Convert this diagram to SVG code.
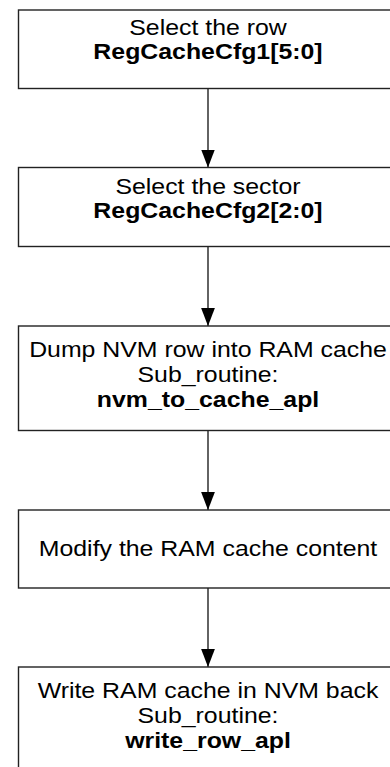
<svg xmlns="http://www.w3.org/2000/svg" width="390" height="767" viewBox="0 0 390 767">
<defs>
<style>
.box{fill:#fff;stroke:#222;stroke-width:1.4}
.t{font-family:"Liberation Sans",Arial,sans-serif;font-size:22px;fill:#000;text-anchor:middle}
.b{font-weight:bold}
.c{stroke:#222;stroke-width:1.4;fill:none}
</style>
<marker id="ah" markerUnits="userSpaceOnUse" markerWidth="18" markerHeight="14" refX="17" refY="6.5" orient="auto" viewBox="0 0 17 13">
<path d="M0,0 L17,6.5 L0,13 Z" fill="#000"/>
</marker>
</defs>
<rect width="390" height="767" fill="#fff"/>
<g id="connectors">
<line class="c" x1="208" y1="88.5" x2="208" y2="167.5" marker-end="url(#ah)"/>
<line class="c" x1="208" y1="246.5" x2="208" y2="326" marker-end="url(#ah)"/>
<line class="c" x1="208" y1="430.5" x2="208" y2="510" marker-end="url(#ah)"/>
<line class="c" x1="208" y1="588" x2="208" y2="667" marker-end="url(#ah)"/>
</g>
<g id="n1">
<rect class="box" x="18.5" y="10" width="379" height="78.5"/>
<g transform="translate(208,0) scale(1.13,1)">
<text class="t" x="0" y="35">Select the row</text>
<text class="t b" x="0" y="59">RegCacheCfg1[5:0]</text>
</g>
</g>
<g id="n2">
<rect class="box" x="18.5" y="167.5" width="379" height="79"/>
<g transform="translate(208,0) scale(1.13,1)">
<text class="t" x="0" y="194">Select the sector</text>
<text class="t b" x="0" y="218">RegCacheCfg2[2:0]</text>
</g>
</g>
<g id="n3">
<rect class="box" x="18.5" y="326" width="379" height="104.5"/>
<g transform="translate(208,0) scale(1.13,1)">
<text class="t" x="0" y="357">Dump NVM row into RAM cache</text>
<text class="t" x="0" y="382">Sub_routine:</text>
<text class="t b" x="0" y="407">nvm_to_cache_apl</text>
</g>
</g>
<g id="n4">
<rect class="box" x="18.5" y="510" width="379" height="78"/>
<g transform="translate(208,0) scale(1.13,1)">
<text class="t" x="0" y="556">Modify the RAM cache content</text>
</g>
</g>
<g id="n5">
<rect class="box" x="18.5" y="667" width="379" height="110"/>
<g transform="translate(208,0) scale(1.13,1)">
<text class="t" x="0" y="698">Write RAM cache in NVM back</text>
<text class="t" x="0" y="723">Sub_routine:</text>
<text class="t b" x="0" y="748">write_row_apl</text>
</g>
</g>
</svg>
